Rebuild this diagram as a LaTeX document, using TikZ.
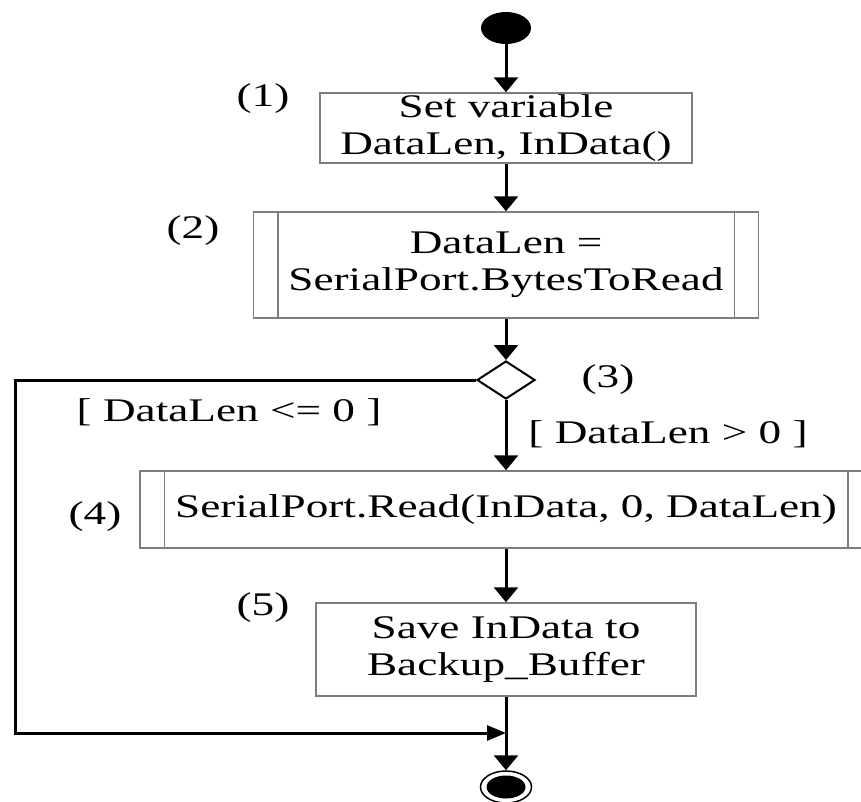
\documentclass[tikz,border=0pt]{standalone}
\usepackage{fontspec}
\setmainfont{Liberation Serif}[FakeStretch=1.37]
\usetikzlibrary{arrows.meta,shapes.geometric,calc}
\definecolor{boxgray}{RGB}{125,125,125}

\begin{document}
\begin{tikzpicture}[x=1pt,y=-1pt,
  txt/.style={font=\fontsize{33}{37}\selectfont, align=center, inner sep=0pt},
  actbox/.style={draw=boxgray, line width=1.5pt, rectangle, inner sep=0pt, txt},
  bar/.style={draw=boxgray, line width=1.5pt},
  flow/.style={line width=3pt, -{Triangle[length=15pt,width=24pt]}},
  hflow/.style={line width=3pt, line join=miter, -{Triangle[length=19pt,width=15pt]}},
]
\useasboundingbox (0,0) rectangle (861,801);
\clip (0,0) rectangle (861,801);

% initial and final states
\node[ellipse, fill=black, minimum width=50pt, minimum height=32pt, inner sep=0pt] (start) at (506,28) {};
\node[ellipse, draw, fill=white, line width=1.5pt, minimum width=51pt, minimum height=32pt, inner sep=0pt] (stop) at (506,787) {};
\node[ellipse, fill=black, minimum width=39pt, minimum height=23pt, inner sep=0pt] (stopcore) at (stop.center) {};

% actions
\node[actbox, minimum width=372pt, minimum height=70pt] (b1) at (506,128) {Set variable\\DataLen, InData()};
\node[actbox, minimum width=505pt, minimum height=106pt] (b2) at (506,265) {DataLen =\\SerialPort.BytesToRead};
\draw[bar] ($(b2.north west)+(25,0)$) -- ($(b2.south west)+(25,0)$);
\draw[bar] ($(b2.north east)+(-25,0)$) -- ($(b2.south east)+(-25,0)$);

\node[diamond, draw, line width=2pt, minimum width=58pt, minimum height=38pt, shape aspect=1.5, inner sep=0pt] (dec) at (506,380) {};

\node[actbox, minimum width=732pt, minimum height=77pt] (b4) at (506,509.5) {SerialPort.Read(InData, 0, DataLen)};
\draw[bar] ($(b4.north west)+(25,0)$) -- ($(b4.south west)+(25,0)$);
\draw[bar] ($(b4.north east)+(-25,0)$) -- ($(b4.south east)+(-25,0)$);

\node[actbox, minimum width=380pt, minimum height=93pt] (b5) at (506,649.5) {Save InData to\\Backup\_Buffer};

% step numbers
\node[txt] (n1) at (263,99) {(1)};
\node[txt] (n2) at (193,231) {(2)};
\node[txt] (n3) at (608,380) {(3)};
\node[txt] (n4) at (95,517) {(4)};
\node[txt] (n5) at (263,608) {(5)};

% guards
\node[txt] (gpos) at (668,434) {[ DataLen > 0 ]};
\node[txt] (gneg) at (229,412) {[ DataLen <= 0 ]};

% control flow
\coordinate (loopTop) at (15,380);
\coordinate (loopBot) at (15,733);
\coordinate (merge) at (506,733);

\draw[flow] (start.south) -- (b1.north);
\draw[flow] (b1.south) -- (b2.north);
\draw[flow] (b2.south) -- (dec.north);
\draw[flow] (dec.south) -- (b4.north);
\draw[flow] (b4.south) -- (b5.north);
\draw[flow] (b5.south) -- (stop.north);
\draw[hflow] (dec.west) -- (loopTop) -- (loopBot) -- (merge);
\end{tikzpicture}
\end{document}
